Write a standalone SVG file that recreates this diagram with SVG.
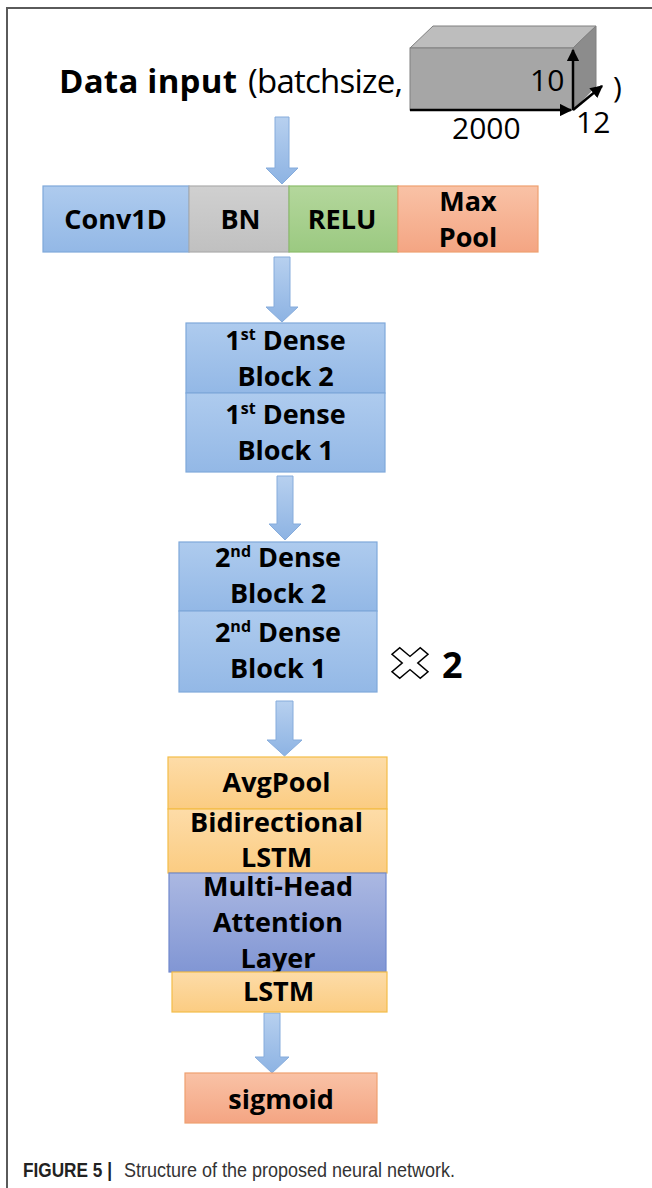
<svg xmlns="http://www.w3.org/2000/svg" width="652" height="1188" viewBox="0 0 652 1188">
  <defs>
    <linearGradient id="gBlue" x1="0" y1="0" x2="0" y2="1">
      <stop offset="0" stop-color="#aecbee"/>
      <stop offset="1" stop-color="#93b8e6"/>
    </linearGradient>
    <linearGradient id="gGray" x1="0" y1="0" x2="0" y2="1">
      <stop offset="0" stop-color="#d0d0d0"/>
      <stop offset="1" stop-color="#c0c0c0"/>
    </linearGradient>
    <linearGradient id="gGreen" x1="0" y1="0" x2="0" y2="1">
      <stop offset="0" stop-color="#b4d79c"/>
      <stop offset="1" stop-color="#9bc981"/>
    </linearGradient>
    <linearGradient id="gOrange" x1="0" y1="0" x2="0" y2="1">
      <stop offset="0" stop-color="#f9c2a6"/>
      <stop offset="1" stop-color="#f4a583"/>
    </linearGradient>
    <linearGradient id="gGold" x1="0" y1="0" x2="0" y2="1">
      <stop offset="0" stop-color="#fddca8"/>
      <stop offset="1" stop-color="#fbcc82"/>
    </linearGradient>
    <linearGradient id="gViolet" x1="0" y1="0" x2="0" y2="1">
      <stop offset="0" stop-color="#abb8e2"/>
      <stop offset="1" stop-color="#8196d4"/>
    </linearGradient>
    <linearGradient id="gArrow" x1="0" y1="0" x2="0" y2="1">
      <stop offset="0" stop-color="#b7d0ef"/>
      <stop offset="1" stop-color="#8db3e3"/>
    </linearGradient>
    <marker id="tip" viewBox="0 0 10 10" refX="9" refY="5" markerWidth="5" markerHeight="5" orient="auto-start-reverse" markerUnits="strokeWidth">
      <path d="M0,0 L10,5 L0,10 Z" fill="#000"/>
    </marker>
  </defs>
  <style>
    .lbl { font-family: "Open Sans", "Liberation Sans", sans-serif; font-weight: bold; font-size: 27px; fill: #000; text-anchor: middle; }
    .sup { font-size: 16px; }
    .blue { fill: url(#gBlue); stroke: #7fa8da; stroke-width: 1.2; }
    .gray { fill: url(#gGray); stroke: #acacac; stroke-width: 1.2; }
    .green { fill: url(#gGreen); stroke: #8cbd6c; stroke-width: 1.2; }
    .orange { fill: url(#gOrange); stroke: #eea070; stroke-width: 1.2; }
    .gold { fill: url(#gGold); stroke: #f3bd48; stroke-width: 1.2; }
    .violet { fill: url(#gViolet); stroke: #7189cd; stroke-width: 1.2; }
    .arrow { fill: url(#gArrow); stroke: #86acdc; stroke-width: 1; }
    .frame { stroke: #5a5a5a; stroke-width: 2; fill: none; }
    .dim { stroke: #000; stroke-width: 2.5; fill: none; }
    .num { font-family: "Open Sans", "Liberation Sans", sans-serif; font-size: 30px; fill: #000; }
    .cap { font-family: "Liberation Sans", Arial, sans-serif; font-size: 20px; fill: #333; }
  </style>

  <!-- page frame -->
  <path class="frame" d="M7,1188 V8 H652"/>

  <!-- input header -->
  <g id="input">
    <text x="59" y="93" font-family="'Open Sans', 'Liberation Sans', sans-serif" font-size="33" fill="#000"><tspan font-weight="bold" textLength="178">Data input</tspan><tspan x="248" textLength="155">(batchsize,</tspan></text>
    <!-- data cube -->
    <polygon points="410,48 433,26 596,26 573,48" fill="#bdbdbd" stroke="#808080" stroke-width="1"/>
    <polygon points="573,48 596,26 596,86 573,110" fill="#8c8c8c" stroke="#808080" stroke-width="1"/>
    <rect x="410" y="48" width="163" height="62" fill="#a6a6a6" stroke="#808080" stroke-width="1"/>
    <line class="dim" x1="410" y1="110" x2="571" y2="110" marker-end="url(#tip)"/>
    <line class="dim" x1="573" y1="110" x2="573" y2="50" marker-end="url(#tip)"/>
    <line class="dim" x1="573" y1="110" x2="602" y2="86" marker-end="url(#tip)"/>
    <text class="num" x="530" y="91">10</text>
    <text class="num" x="452" y="139">2000</text>
    <text class="num" x="576" y="133">12</text>
    <text class="num" x="613" y="98">)</text>
  </g>

  <!-- connectors -->
  <g id="connectors">
    <path class="arrow" d="M275,117 H289 V168 H298 L282,184 L266,168 H275 Z"/>
    <path class="arrow" d="M274,257 H290 V307 H298 L282,322 L266,307 H274 Z"/>
    <path class="arrow" d="M277,476 H293 V524 H301 L285,540 L269,524 H277 Z"/>
    <path class="arrow" d="M276,701 H293 V740 H302 L284.5,756 L267,740 H276 Z"/>
    <path class="arrow" d="M264,1013 H280 V1057 H289 L272,1073 L255,1057 H264 Z"/>
  </g>

  <!-- first stage: convolution row -->
  <g id="conv1d">
    <rect class="blue" x="43" y="186" width="146" height="66"/>
    <text class="lbl" x="115.5" y="229">Conv1D</text>
  </g>
  <g id="bn">
    <rect class="gray" x="189" y="186" width="100" height="66"/>
    <text class="lbl" x="240.5" y="229">BN</text>
  </g>
  <g id="relu">
    <rect class="green" x="289" y="186" width="109" height="66"/>
    <text class="lbl" x="342" y="229">RELU</text>
  </g>
  <g id="maxpool">
    <rect class="orange" x="398" y="186" width="140" height="66"/>
    <text class="lbl" x="468" y="211">Max</text>
    <text class="lbl" x="468" y="247">Pool</text>
  </g>

  <!-- first dense stage -->
  <g id="dense1-block2">
    <rect class="blue" x="186" y="323" width="199" height="70"/>
    <text class="lbl" x="285.5" y="350">1<tspan class="sup" dy="-10">st</tspan><tspan dy="10"> Dense</tspan></text>
    <text class="lbl" x="285.5" y="386">Block 2</text>
  </g>
  <g id="dense1-block1">
    <rect class="blue" x="186" y="393" width="199" height="79"/>
    <text class="lbl" x="285.5" y="424">1<tspan class="sup" dy="-10">st</tspan><tspan dy="10"> Dense</tspan></text>
    <text class="lbl" x="285.5" y="460">Block 1</text>
  </g>

  <!-- second dense stage -->
  <g id="dense2-block2">
    <rect class="blue" x="179" y="542" width="198" height="69"/>
    <text class="lbl" x="278" y="567">2<tspan class="sup" dy="-10">nd</tspan><tspan dy="10"> Dense</tspan></text>
    <text class="lbl" x="278" y="603">Block 2</text>
  </g>
  <g id="dense2-block1">
    <rect class="blue" x="179" y="611" width="198" height="81"/>
    <text class="lbl" x="278" y="642">2<tspan class="sup" dy="-10">nd</tspan><tspan dy="10"> Dense</tspan></text>
    <text class="lbl" x="278" y="678">Block 1</text>
  </g>
  <g id="repeat">
    <polygon transform="translate(410,663) scale(1,0.85) rotate(45)" points="-5.5,-20 5.5,-20 5.5,-5.5 20,-5.5 20,5.5 5.5,5.5 5.5,20 -5.5,20 -5.5,5.5 -20,5.5 -20,-5.5 -5.5,-5.5" fill="#fff" stroke="#000" stroke-width="1.6" stroke-linejoin="miter"/>
    <text x="442" y="678" font-family="'Open Sans', 'Liberation Sans', sans-serif" font-weight="bold" font-size="36" fill="#000">2</text>
  </g>

  <!-- sequence stage -->
  <g id="avgpool">
    <rect class="gold" x="168" y="757" width="219" height="52"/>
    <text class="lbl" x="276.5" y="792">AvgPool</text>
  </g>
  <g id="bilstm">
    <rect class="gold" x="168" y="809" width="219" height="64"/>
    <text class="lbl" x="276.5" y="832">Bidirectional</text>
    <text class="lbl" x="276.5" y="867">LSTM</text>
  </g>
  <g id="attention">
    <rect class="violet" x="169" y="873" width="217" height="99"/>
    <text class="lbl" x="278" y="896">Multi-Head</text>
    <text class="lbl" x="278" y="932">Attention</text>
    <text class="lbl" x="278" y="968">Layer</text>
  </g>
  <g id="lstm">
    <rect class="gold" x="172" y="972" width="215" height="40"/>
    <text class="lbl" x="278.5" y="1001">LSTM</text>
  </g>

  <!-- output -->
  <g id="sigmoid">
    <rect class="orange" x="185" y="1073" width="192" height="50"/>
    <text class="lbl" x="281" y="1109">sigmoid</text>
  </g>

  <!-- caption -->
  <text class="cap" x="23" y="1177"><tspan font-weight="bold" fill="#222" textLength="89" lengthAdjust="spacingAndGlyphs">FIGURE 5 |</tspan><tspan x="124" textLength="331" lengthAdjust="spacingAndGlyphs">Structure of the proposed neural network.</tspan></text>
</svg>
